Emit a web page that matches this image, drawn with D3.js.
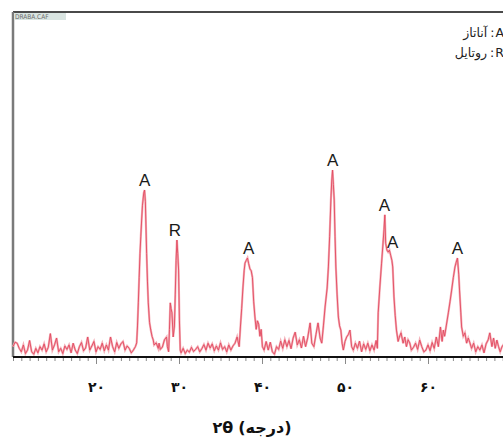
<!DOCTYPE html>
<html>
<head>
<meta charset="utf-8">
<script src="https://cdn.jsdelivr.net/npm/d3@7/dist/d3.min.js"></script>
<style>
body { margin:0; background:#fff; }
svg { display:block; }
.peak { font-family:"Liberation Sans", Arial, sans-serif; font-size:17px; fill:#1a1a1a; }
.legend { font-family:"DejaVu Sans", sans-serif; font-size:12.5px; fill:#222; }
.tick-fa { font-family:"DejaVu Sans", sans-serif; font-size:14px; font-weight:bold; fill:#111; }
.title { font-family:"DejaVu Sans", sans-serif; font-size:16px; font-weight:bold; fill:#111; }
</style>
</head>
<body>
<svg width="503" height="444"></svg>
<script>
// XRD pattern: [2theta, intensity]
var pattern = [
  [10.00,3.0],[10.25,4.3],[10.50,4.0],[10.75,2.5],[11.00,1.5],[11.25,3.5],[11.50,1.0],[11.75,2.0],
  [12.00,4.8],[12.25,1.5],[12.50,0.8],[12.75,2.5],[13.00,1.2],[13.25,3.0],[13.50,2.0],[13.75,3.8],
  [14.00,1.5],[14.25,2.8],[14.50,6.8],[14.75,2.0],[15.00,3.5],[15.25,5.5],[15.50,1.5],[15.75,2.5],
  [16.00,1.0],[16.25,3.2],[16.50,2.2],[16.75,3.5],[17.00,1.2],[17.25,4.0],[17.50,2.0],[17.75,1.0],
  [18.00,3.0],[18.25,4.2],[18.50,1.8],[18.75,2.6],[19.00,5.8],[19.25,2.0],[19.50,3.2],[19.75,4.5],
  [20.00,1.5],[20.25,3.0],[20.50,2.2],[20.75,4.0],[21.00,1.8],[21.25,3.5],[21.50,2.0],[21.75,5.8],
  [22.00,3.0],[22.25,1.5],[22.50,4.2],[22.75,2.5],[23.00,3.8],[23.25,4.5],[23.50,2.0],[23.75,3.2],
  [24.00,2.5],[24.25,1.2],[24.50,2.0],[24.75,3.0],
  [24.90,4.1],[25.00,9.0],[25.10,15.7],[25.20,23.0],[25.30,30.0],[25.40,35.0],[25.50,39.7],[25.60,44.0],
  [25.75,47.5],[25.85,48.4],[25.95,45.0],[26.10,30.0],[26.20,22.0],[26.30,15.7],[26.45,10.0],[26.60,7.8],
  [26.75,6.0],[26.90,4.9],
  [27.00,3.5],[27.25,4.1],[27.50,2.5],[27.60,4.0],[27.75,2.2],[28.00,2.9],[28.25,5.0],[28.50,5.8],
  [28.60,3.0],[28.75,1.5],
  [28.85,8.0],[28.95,15.7],[29.05,14.0],[29.15,12.8],[29.30,5.8],[29.45,9.0],[29.55,18.0],[29.65,28.0],
  [29.75,33.9],[29.85,30.0],[29.95,25.2],[30.05,10.7],[30.15,2.0],
  [30.25,1.2],[30.50,2.5],[30.75,1.0],[31.00,2.0],[31.25,1.4],[31.50,2.8],[31.75,1.6],[32.00,2.2],
  [32.25,3.0],[32.50,1.5],[32.75,2.4],[33.00,3.6],[33.25,2.0],[33.50,4.0],[33.75,2.6],[34.00,3.8],
  [34.25,1.8],[34.50,3.2],[34.75,2.0],[35.00,4.1],[35.25,2.2],[35.50,3.0],[35.75,1.5],[36.00,3.5],
  [36.25,2.0],[36.50,3.2],[36.75,4.0],[37.00,5.8],[37.25,3.0],
  [37.40,8.7],[37.55,14.0],[37.70,20.0],[37.85,25.0],[37.95,27.2],[38.10,28.0],[38.25,28.7],[38.40,27.0],
  [38.55,25.5],[38.70,25.0],[38.85,23.0],[39.00,16.0],[39.15,11.6],[39.30,8.0],[39.45,10.5],[39.60,9.5],
  [39.75,6.0],[39.90,8.0],[40.05,3.0],
  [40.25,2.0],[40.50,4.5],[40.75,2.0],[41.00,4.3],[41.25,1.5],[41.50,0.8],[41.75,3.0],[42.00,2.2],
  [42.25,4.6],[42.50,2.5],[42.75,5.0],[43.00,3.0],[43.25,4.8],[43.50,2.4],[43.75,5.5],[44.00,7.2],
  [44.25,3.5],[44.50,5.0],[44.75,2.6],[45.00,6.0],[45.25,3.0],[45.50,5.5],[45.80,9.9],[46.00,4.0],
  [46.25,3.0],[46.50,6.5],[46.75,9.9],[47.00,5.5],[47.20,4.0],
  [47.40,9.0],[47.60,14.5],[47.85,20.0],[48.00,26.1],[48.15,35.0],[48.30,45.5],[48.40,51.0],[48.50,54.2],
  [48.60,50.0],[48.70,45.5],[48.80,35.0],[48.90,26.1],[49.05,18.0],[49.20,11.6],[49.35,9.0],[49.50,7.8],
  [49.65,4.0],[49.80,2.0],
  [50.00,4.5],[50.20,5.8],[50.40,6.5],[50.60,7.8],[50.80,3.0],[51.00,2.0],[51.25,4.0],[51.50,2.5],
  [51.75,4.6],[52.00,1.5],[52.25,3.8],[52.50,2.2],[52.75,4.0],[53.00,1.8],[53.25,3.5],[53.50,2.0],
  [53.75,4.8],[53.90,2.5],
  [54.00,12.8],[54.20,20.3],[54.40,27.0],[54.55,31.9],[54.70,37.0],[54.80,41.2],[54.90,33.0],[55.05,31.0],
  [55.20,30.4],[55.35,31.0],[55.50,29.5],[55.65,28.0],[55.75,26.1],[55.90,17.4],[56.05,12.0],[56.20,7.8],
  [56.40,4.5],[56.55,5.8],[56.75,7.0],
  [57.00,4.0],[57.20,5.8],[57.40,3.0],[57.60,5.0],[57.80,4.1],[58.00,2.0],[58.25,2.8],[58.50,4.0],
  [58.75,2.2],[59.00,4.9],[59.25,3.0],[59.50,1.5],[59.75,2.0],[60.00,3.5],[60.25,1.8],[60.50,4.2],
  [60.75,2.5],[61.00,5.8],[61.25,3.0],[61.50,8.7],[61.70,4.5],[61.85,7.8],[62.00,6.0],
  [62.20,9.0],[62.45,12.8],[62.65,16.0],[62.85,19.4],[63.05,23.0],[63.25,26.1],[63.40,27.5],[63.55,28.7],
  [63.70,24.0],[63.80,19.4],[63.95,13.0],[64.05,8.7],[64.25,6.0],[64.45,7.0],[64.65,4.0],[64.85,5.5],
  [65.05,4.1],[65.25,2.5],[65.50,4.0],[65.75,1.5],[66.00,3.0],[66.25,2.0],[66.50,3.5],[66.75,1.2],
  [67.00,3.8],[67.25,5.0],[67.45,7.0],[67.70,3.0],[67.90,5.5],[68.10,2.5],[68.30,4.9],[68.50,3.0],
  [68.70,1.5],[68.90,2.9],[69.20,4.0],[69.50,2.0],[69.75,3.0],[70.00,2.5]
];

// labelled peaks
var peakPhase = ["A", "R", "A", "A", "A", "A", "A"];
var peakAngle = [25.85, 29.5, 38.4, 48.5, 54.75, 55.75, 63.55];
var peakHeight = [48.4, 33.9, 28.7, 54.2, 41.2, 30.4, 28.7];

var xTicks = [20, 30, 40, 50, 60];
var xTickLabels = ["۲۰", "۳۰", "۴۰", "۵۰", "۶۰"];

var legendKeys = ["A", "R"];
var legendNames = ["آناتاز", "روتایل"];

var svg = d3.select("svg");
var padLeft = 13, padTop = 12, padBottom = 357, padRight = 511;

var x = d3.scaleLinear().domain([10, 70]).range([padLeft, padRight]);
var y = d3.scaleLinear().domain([0, 100]).range([padBottom, padTop]);

// frame
svg.append("line")
 .attr("x1", padLeft).attr("x2", 503)
 .attr("y1", padTop).attr("y2", padTop)
 .attr("stroke", "#4a4a4a").attr("stroke-width", 2);
svg.append("line")
 .attr("x1", padLeft).attr("x2", padLeft)
 .attr("y1", padTop).attr("y2", padBottom)
 .attr("stroke", "#7a7a7a").attr("stroke-width", 2.5);

// file tag
svg.append("rect")
 .attr("x", 14).attr("y", 13).attr("width", 52).attr("height", 7)
 .attr("fill", "#d9e4e1");
svg.append("text")
 .attr("x", 15).attr("y", 19.2)
 .style("font-family", "DejaVu Sans Condensed, DejaVu Sans, sans-serif")
 .style("font-size", "6.5px")
 .style("fill", "#6d6d6d")
 .text("DRABA.CAF");

// pattern line
var line = d3.line()
 .x(function(d) { return x(d[0]); })
 .y(function(d) { return y(d[1]); });

svg.append("path")
 .datum(pattern)
 .attr("fill", "none")
 .attr("stroke", "#f4b0b8")
 .attr("stroke-width", 2.2)
 .attr("d", line);
svg.append("path")
 .datum(pattern)
 .attr("fill", "none")
 .attr("stroke", "#e24a60")
 .attr("stroke-width", 0.9)
 .attr("d", line);

// minor ticks every degree
var minor = svg.append("g")
 .attr("transform", "translate(0," + padBottom + ")")
 .call(d3.axisBottom(x).ticks(60).tickSize(4).tickFormat(""));
minor.select(".domain").remove();
minor.selectAll("line").attr("stroke", "#8a8a8a");

// major ticks + labels
var major = svg.append("g")
 .attr("transform", "translate(0," + padBottom + ")")
 .call(d3.axisBottom(x)
   .tickValues(xTicks)
   .tickSize(7)
   .tickPadding(18)
   .tickFormat(function(d, i) { return xTickLabels[i]; }));
major.select(".domain").remove();
major.selectAll("line").attr("stroke", "#8a8a8a");
major.selectAll("text").attr("class", "tick-fa").attr("fill", null);

// baseline
svg.append("line")
 .attr("x1", padLeft).attr("x2", 503)
 .attr("y1", padBottom).attr("y2", padBottom)
 .attr("stroke", "#111").attr("stroke-width", 2);

// peak labels
svg.selectAll(".peak")
 .data(peakPhase)
 .enter()
 .append("text")
 .attr("class", "peak")
 .attr("text-anchor", "middle")
 .attr("x", function(d, i) { return x(peakAngle[i]); })
 .attr("y", function(d, i) { return y(peakHeight[i]) - 4; })
 .text(function(d) { return d; });

// legend, laid out right to left: key letter, colon, persian name
legendKeys.forEach(function(k, i) {
  var yy = 37 + i * 20;
  var xr = 504;
  var key = svg.append("text")
   .attr("class", "legend")
   .attr("text-anchor", "end")
   .attr("x", xr).attr("y", yy)
   .text(k);
  xr -= key.node().getComputedTextLength() + 1;
  var colon = svg.append("text")
   .attr("class", "legend")
   .attr("text-anchor", "end")
   .attr("x", xr).attr("y", yy)
   .text(":");
  xr -= colon.node().getComputedTextLength() + 3;
  svg.append("text")
   .attr("class", "legend")
   .attr("text-anchor", "end")
   .attr("x", xr).attr("y", yy)
   .text(legendNames[i]);
});

// axis title: "۲θ" then "(درجه)"
var t1 = svg.append("text").attr("class", "title").attr("y", 433).text("۲θ");
var t2 = svg.append("text").attr("class", "title").attr("y", 433).text("(درجه)");
var w1 = t1.node().getComputedTextLength();
var w2 = t2.node().getComputedTextLength();
var gap = 5;
var x0 = 252 - (w1 + gap + w2) / 2;
t1.attr("x", x0);
t2.attr("x", x0 + w1 + gap);
</script>
</body>
</html>
